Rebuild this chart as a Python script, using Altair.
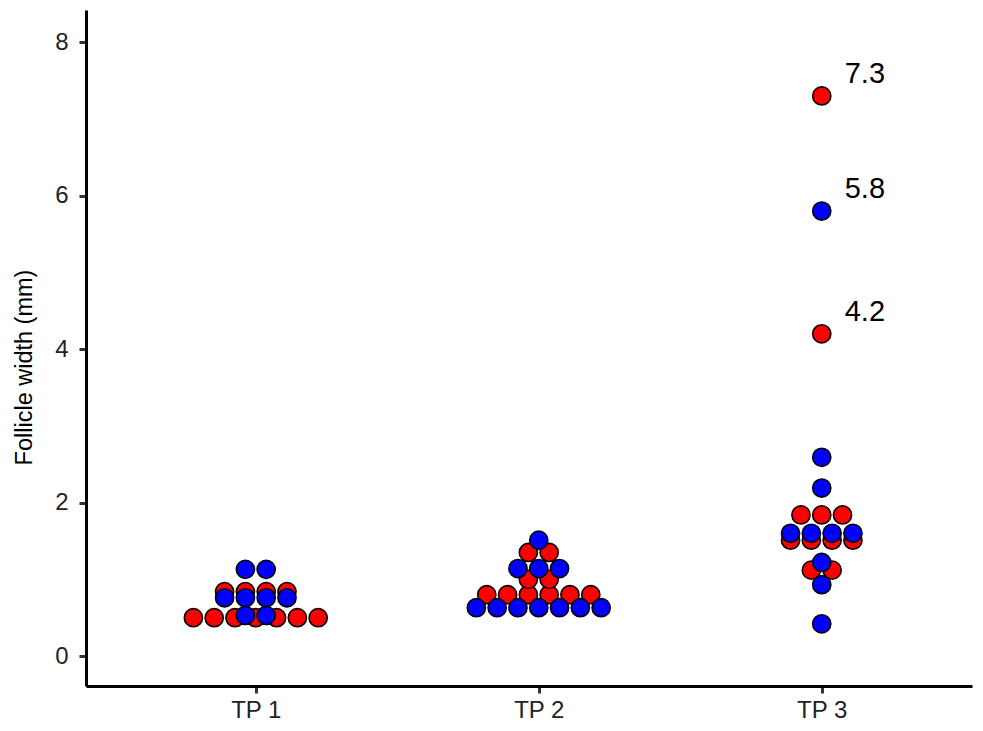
import altair as alt
import pandas as pd

# Follicle widths (mm), per time point and colour group
tp1_red = [0.5, 0.5, 0.5, 0.5, 0.5, 0.5, 0.5, 0.84, 0.84, 0.84, 0.84]
tp1_blue = [0.53, 0.53, 0.76, 0.76, 0.76, 0.76, 1.13, 1.13]
tp2_red = [0.8, 0.8, 0.8, 0.8, 0.8, 0.8, 1.0, 1.0, 1.35, 1.35]
tp2_blue = [0.63, 0.63, 0.63, 0.63, 0.63, 0.63, 0.63, 1.14, 1.14, 1.14, 1.51]
tp3_red = [1.12, 1.12, 1.51, 1.51, 1.51, 1.51, 1.84, 1.84, 1.84, 4.2, 7.3]
tp3_blue = [0.42, 0.93, 1.22, 1.6, 1.6, 1.6, 1.6, 2.19, 2.59, 5.8]

tp_labels = ["TP 1", "TP 2", "TP 3"]

rows = []
for tp, red, blue in [(1, tp1_red, tp1_blue), (2, tp2_red, tp2_blue), (3, tp3_red, tp3_blue)]:
    for v in red:
        rows.append({"tp": tp, "grp": "red", "val": v})
    for v in blue:
        rows.append({"tp": tp, "grp": "blue", "val": v})
df = pd.DataFrame(rows)

FONT = "Liberation Sans"
X_DOMAIN = [0.4, 3.531]
Y_DOMAIN = [-0.39, 8.42]

base = (
    alt.Chart(df)
    .transform_window(idx="row_number()", groupby=["tp", "grp", "val"])
    .transform_joinaggregate(n="count()", groupby=["tp", "grp", "val"])
    .transform_calculate(xpos="datum.tp + (datum.idx - (datum.n + 1) / 2) * 0.0735")
)

label_expr = "['', '" + "', '".join(tp_labels) + "'][datum.value]"

x_enc = alt.X(
    "xpos:Q",
    scale=alt.Scale(domain=X_DOMAIN, nice=False, zero=False),
    axis=alt.Axis(values=[1, 2, 3], labelExpr=label_expr, title=None, grid=False, labelPadding=5),
)
y_enc = alt.Y(
    "val:Q",
    scale=alt.Scale(domain=Y_DOMAIN, nice=False, zero=False),
    axis=alt.Axis(values=[0, 2, 4, 6, 8], title="Follicle width (mm)", grid=False, labelPadding=11),
)

red = base.transform_filter("datum.grp == 'red'").mark_point(
    shape="circle", filled=True, fill="#FF0000", stroke="black", strokeWidth=1.6, size=330, opacity=1
).encode(x=x_enc, y=y_enc)

blue = base.transform_filter("datum.grp == 'blue'").mark_point(
    shape="circle", filled=True, fill="#0000FF", stroke="black", strokeWidth=1.6, size=330, opacity=1
).encode(x=x_enc, y=y_enc)

labels = base.transform_filter("datum.val > 3").mark_text(
    align="left", baseline="middle", dx=23, dy=-22, fontSize=29, font=FONT, color="black"
).encode(x=x_enc, y=y_enc, text=alt.Text("val:Q", format=".1f"))

chart = (
    alt.layer(red, blue, labels)
    .properties(
        width=886,
        height=676,
        autosize=alt.AutoSizeParams(type="none"),
        padding={"left": 78, "top": 2, "right": 3, "bottom": 37},
    )
    .configure_view(stroke=None)
    .configure_axis(
        domainColor="black",
        domainWidth=3,
        tickColor="#333333",
        tickWidth=3,
        tickSize=7,
        labelFont=FONT,
        labelFontSize=24,
        labelColor="#222222",
        titleFont=FONT,
        titleFontSize=23.5,
        titleFontWeight="normal",
        titleColor="black",
    )
    .configure_axisY(titleX=-62, titleY=357, titleBaseline="middle", titleAlign="center")
)

chart.save("out.html", embed_options={"renderer": "svg", "actions": False})
